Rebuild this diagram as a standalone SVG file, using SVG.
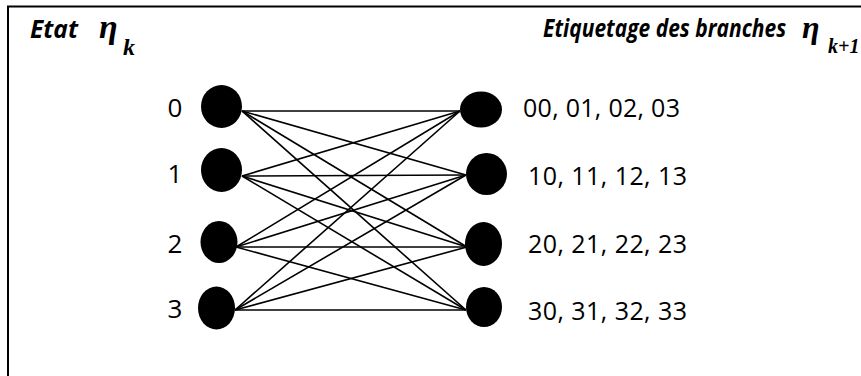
<svg xmlns="http://www.w3.org/2000/svg" width="861" height="376" viewBox="0 0 861 376">
  <style>
    .frame { fill: none; stroke: #000; stroke-width: 2; }
    .node { fill: #000; }
    .edge { stroke: #000; stroke-width: 1.6; fill: none; }
    .lbl { font-family: "Open Sans", "Liberation Sans", sans-serif; font-size: 25px; fill: #000; }
    .num { font-family: "Open Sans", "Liberation Sans", sans-serif; font-size: 26px; fill: #000; }
    .title { font-family: "Open Sans", "Liberation Sans", sans-serif; font-weight: bold; font-style: italic; fill: #000; }
    .math { font-family: "Liberation Serif", "DejaVu Serif", serif; font-weight: bold; font-style: italic; fill: #000; }
  </style>

  <!-- outer frame (left and top edges) -->
  <path class="frame" d="M8,376 V6.5 H861"/>

  <!-- headings: word, then eta with its index as a subscript -->
  <g id="heading-left">
    <text class="title" x="30" y="38" font-size="24.5">Etat</text>
    <text class="math" x="99" y="38" font-size="34">η<tspan x="123" y="55" font-size="24">k</tspan></text>
  </g>
  <g id="heading-right">
    <text class="title" font-size="21" transform="translate(543,37) scale(1,1.2)">Etiquetage des branches</text>
    <text class="math" x="802" y="38" font-size="32">η<tspan x="828" y="53" font-size="20">k+1</tspan></text>
  </g>

  <!-- branches between states -->
  <g id="connectors">
    <line class="edge" x1="242" y1="111" x2="460" y2="111"/>
    <line class="edge" x1="242" y1="111" x2="466" y2="175"/>
    <line class="edge" x1="242" y1="111" x2="467" y2="247"/>
    <line class="edge" x1="242" y1="111" x2="466" y2="310"/>

    <line class="edge" x1="242" y1="176" x2="460" y2="111"/>
    <line class="edge" x1="242" y1="176" x2="466" y2="175"/>
    <line class="edge" x1="242" y1="176" x2="467" y2="247"/>
    <line class="edge" x1="242" y1="176" x2="466" y2="310"/>

    <line class="edge" x1="236" y1="247" x2="460" y2="111"/>
    <line class="edge" x1="236" y1="247" x2="466" y2="175"/>
    <line class="edge" x1="236" y1="247" x2="467" y2="247"/>
    <line class="edge" x1="236" y1="247" x2="466" y2="310"/>

    <line class="edge" x1="235" y1="310" x2="460" y2="111"/>
    <line class="edge" x1="235" y1="310" x2="466" y2="175"/>
    <line class="edge" x1="235" y1="310" x2="467" y2="247"/>
    <line class="edge" x1="235" y1="310" x2="466" y2="310"/>
  </g>

  <!-- current states -->
  <g id="state-0">
    <ellipse class="node" cx="221.5" cy="106.5" rx="20.5" ry="21.5"/>
    <text class="num" x="175" y="117" text-anchor="middle">0</text>
  </g>
  <g id="state-1">
    <ellipse class="node" cx="221.5" cy="170" rx="20.5" ry="22"/>
    <text class="num" x="175" y="183" text-anchor="middle">1</text>
  </g>
  <g id="state-2">
    <ellipse class="node" cx="219" cy="242" rx="18.5" ry="21"/>
    <text class="num" x="175" y="253" text-anchor="middle">2</text>
  </g>
  <g id="state-3">
    <ellipse class="node" cx="216.5" cy="308" rx="18.5" ry="21.5"/>
    <text class="num" x="175" y="318" text-anchor="middle">3</text>
  </g>

  <!-- next states with branch labels -->
  <g id="next-0">
    <ellipse class="node" cx="481" cy="109.5" rx="21" ry="18"/>
    <text class="lbl" x="523" y="117" textLength="157">00, 01, 02, 03</text>
  </g>
  <g id="next-1">
    <ellipse class="node" cx="486.5" cy="174" rx="20.5" ry="21"/>
    <text class="lbl" x="528" y="185" textLength="159">10, 11, 12, 13</text>
  </g>
  <g id="next-2">
    <ellipse class="node" cx="483.5" cy="244" rx="18.5" ry="22"/>
    <text class="lbl" x="528" y="253" textLength="159">20, 21, 22, 23</text>
  </g>
  <g id="next-3">
    <ellipse class="node" cx="484" cy="307" rx="18" ry="20"/>
    <text class="lbl" x="528" y="320" textLength="159">30, 31, 32, 33</text>
  </g>
</svg>
